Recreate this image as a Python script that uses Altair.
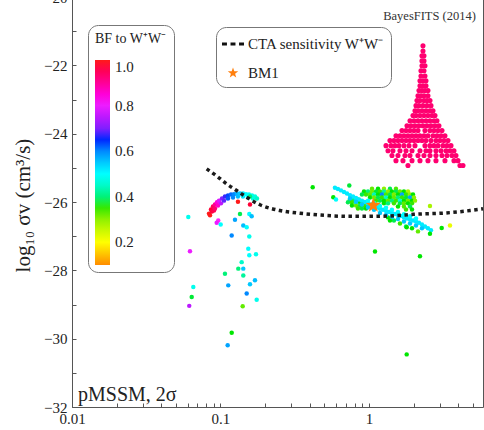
import altair as alt
import pandas as pd

SERIF = "Liberation Serif"

# ---------------- data ----------------
# pink spire at high mass, BF ~ 0.93: rows of (log10 sigma v, [m values])
pink_rows = [
    (-21.43, [2.310]),
    (-21.58, [2.310]),
    (-21.72, [2.274, 2.346]),
    (-21.87, [2.274, 2.346]),
    (-22.01, [2.274, 2.383]),
    (-22.16, [2.239, 2.346]),
    (-22.31, [2.239, 2.383]),
    (-22.45, [2.205, 2.310, 2.420]),
    (-22.60, [2.205, 2.310, 2.420]),
    (-22.74, [2.171, 2.274, 2.383, 2.496]),
    (-22.89, [2.138, 2.239, 2.346, 2.496]),
    (-23.03, [2.105, 2.205, 2.346, 2.458, 2.575]),
    (-23.18, [2.073, 2.171, 2.310, 2.458, 2.615]),
    (-23.33, [2.041, 2.138, 2.274, 2.420, 2.575, 2.698]),
    (-23.47, [1.979, 2.073, 2.205, 2.346, 2.496, 2.656, 2.783]),
    (-23.62, [1.889, 2.009, 2.138, 2.274, 2.420, 2.575, 2.740, 2.870]),
    (-23.77, [1.803, 1.918, 2.041, 2.171, 2.310, 2.458, 2.615, 2.783, 2.960]),
    (-23.91, [1.668, 1.776, 1.889, 2.009, 2.138, 2.383, 2.575, 2.740, 2.915, 3.102]),
    (-24.06, [1.520, 1.617, 1.720, 1.831, 1.949, 2.073, 2.205, 2.346, 2.496, 2.698, 2.870, 3.054, 3.249]),
    (-24.20, [1.385, 1.473, 1.568, 1.668, 1.776, 1.889, 2.009, 2.138, 2.274, 2.420, 2.615, 2.826, 3.007, 3.200, 3.404]),
    (-24.35, [1.302, 1.406, 1.497, 1.592, 1.720, 1.860, 2.041, 2.383, 2.575, 2.740, 2.915, 3.150, 3.352, 3.566]),
    (-24.50, [1.343, 1.450, 1.617, 1.776, 1.949, 2.205, 2.420, 2.575, 2.826, 3.054, 3.300, 3.512, 3.736]),
    (-24.64, [1.428, 1.568, 1.747, 1.889, 2.138, 2.346, 2.575, 2.826, 3.102, 3.352, 3.622, 3.853]),
    (-24.79, [1.520, 1.694, 1.949, 2.205, 2.496, 2.826, 3.249, 3.736, 3.975]),
    (-24.93, [1.831, 4.101, 4.296]),
]
pink_bf = 0.93

# arc of points near m ~ 0.1
arc_x = [0.0837, 0.0850, 0.0863, 0.0876, 0.0890, 0.0904, 0.0918, 0.0918, 0.0947, 0.0962,
         0.0977, 0.1008, 0.1024, 0.1056, 0.1072, 0.1123, 0.1123, 0.1177, 0.1214, 0.1233,
         0.1291, 0.1311, 0.1353, 0.1418, 0.1418, 0.1485, 0.1532, 0.1556, 0.1630, 0.1655,
         0.1707, 0.1761, 0.1311, 0.1580, 0.1580]
arc_y = [-26.34, -26.39, -26.22, -26.28, -26.13, -26.25, -26.07, -26.19, -26.01, -26.10,
         -25.96, -26.04, -25.90, -25.96, -25.84, -25.81, -25.90, -25.78, -25.87, -25.77,
         -25.75, -25.84, -25.75, -25.75, -25.84, -25.77, -25.87, -25.78, -25.81, -25.90,
         -25.84, -25.90, -25.99, -26.07, -25.84]
arc_bf = [1.0, 1.0, 0.98, 0.97, 0.95, 0.96, 0.90, 0.93, 0.85, 0.86,
          0.78, 0.75, 0.70, 0.68, 0.66, 0.64, 0.63, 0.62, 0.60, 0.60,
          0.57, 0.56, 0.55, 0.52, 0.52, 0.50, 0.50, 0.50, 0.48, 0.47,
          0.47, 0.45, 1.0, 0.98, 0.40]

# scattered points below the arc
left_x = [0.0607, 0.0966, 0.0943, 0.1003, 0.1252, 0.1353, 0.1563, 0.1622, 0.1424, 0.1501,
          0.1190, 0.1563, 0.0623, 0.1539, 0.1734, 0.1563, 0.1389, 0.1424, 0.1318, 0.1072,
          0.1424, 0.1128, 0.1707, 0.1580, 0.0656, 0.1501, 0.1753, 0.0640, 0.0616, 0.1411,
          0.1190, 0.1118]
left_y = [-26.44, -26.54, -26.61, -26.66, -26.52, -26.35, -26.35, -26.42, -26.69, -26.74,
          -26.98, -27.01, -27.44, -27.37, -27.53, -27.56, -27.76, -27.95, -27.95, -28.10,
          -28.15, -28.44, -28.29, -28.41, -28.49, -28.68, -28.86, -28.78, -29.04, -29.05,
          -29.83, -30.19]
left_bf = [0.48, 0.82, 0.80, 0.50, 0.58, 0.38, 0.50, 0.56, 0.56, 0.50,
           0.60, 0.48, 0.80, 0.50, 0.48, 0.50, 0.45, 0.55, 0.40, 0.40,
           0.42, 0.58, 0.56, 0.55, 0.48, 0.60, 0.48, 0.37, 0.75, 0.33,
           0.36, 0.58]

# green cloud around m ~ 1: rows of (y, [m], [BF])
green_rows = [
    (-25.93, [0.745, 0.793, 0.843], [0.36, 0.40, 0.35]),
    (-26.01, [0.722, 0.768, 0.818, 0.870, 0.926], [0.38, 0.35, 0.42, 0.36, 0.33]),
    (-26.10, [0.768, 0.818, 0.870, 0.926, 0.985], [0.36, 0.33, 0.38, 0.35, 0.40]),
    (-26.19, [0.843, 0.897, 0.955], [0.35, 0.38, 0.36]),
    (-25.61, [1.048, 1.150, 1.262, 1.385, 1.520], [0.33, 0.36, 0.30, 0.38, 0.34]),
    (-25.69, [0.926, 0.985, 1.048, 1.115, 1.186, 1.262, 1.343, 1.428, 1.520, 1.617, 1.720, 1.831],
     [0.36, 0.40, 0.32, 0.37, 0.35, 0.42, 0.30, 0.36, 0.38, 0.33, 0.36, 0.28]),
    (-25.78, [0.897, 0.955, 1.016, 1.081, 1.150, 1.223, 1.302, 1.385, 1.473, 1.568, 1.668, 1.776, 1.889, 1.979],
     [0.38, 0.35, 0.33, 0.44, 0.36, 0.60, 0.34, 0.38, 0.31, 0.36, 0.58, 0.35, 0.30, 0.36]),
    (-25.87, [1.016, 1.081, 1.150, 1.223, 1.302, 1.385, 1.473, 1.568, 1.668, 1.776, 1.889, 2.009],
     [0.36, 0.32, 0.38, 0.35, 0.45, 0.36, 0.33, 0.40, 0.35, 0.37, 0.58, 0.30]),
    (-25.96, [1.115, 1.186, 1.262, 1.343, 1.428, 1.520, 1.617, 1.720, 1.831, 1.949, 2.041],
     [0.35, 0.38, 0.36, 0.33, 0.40, 0.35, 0.46, 0.36, 0.32, 0.36, 0.30]),
    (-26.04, [1.262, 1.343, 1.473, 1.617, 1.720, 1.831, 1.949], [0.36, 0.40, 0.35, 0.38, 0.33, 0.36, 0.35]),
    (-26.13, [1.568, 1.720, 1.889], [0.36, 0.34, 0.38]),
    (-26.22, [1.776, 1.949], [0.35, 0.36]),
]
below_x = [1.343, 1.473, 1.617, 1.776, 1.949, 2.138]
below_y = [-26.45, -26.54, -26.63, -26.72, -26.77, -26.86]
below_bf = [0.36, 0.38, 0.35, 0.40, 0.36, 0.33]

# light-blue band through m ~ 1
band_main_x = [0.590, 0.618, 0.648, 0.679, 0.711, 0.745, 0.781, 0.818, 0.857, 0.897, 0.940,
               0.985, 1.032, 1.081, 1.132, 1.186, 1.243, 1.302, 1.364, 1.428, 1.497, 1.568,
               1.642, 1.720, 1.803, 1.889, 1.979, 2.073, 2.171, 2.274, 2.383, 2.496, 2.615]
band_main_y = [-25.58, -25.62, -25.66, -25.71, -25.75, -25.80, -25.84, -25.88, -25.93, -25.96, -26.00,
               -26.04, -26.07, -26.12, -26.16, -26.20, -26.23, -26.26, -26.29, -26.32, -26.35, -26.38,
               -26.41, -26.45, -26.48, -26.51, -26.54, -26.57, -26.61, -26.66, -26.72, -26.77, -26.83]
band_main_bf = 0.52
band_low_x = [0.745, 0.818, 0.897, 0.985, 1.081, 1.186, 1.302, 1.428, 1.568, 1.720, 1.889, 2.073, 2.274]
band_low_y = [-25.90, -25.99, -26.07, -26.16, -26.23, -26.32, -26.38, -26.44, -26.50, -26.57, -26.63, -26.69, -26.77]
band_low_bf = 0.55
band_up_x = [0.985, 1.081, 1.186, 1.302, 1.428, 1.568, 1.720, 1.889, 2.073]
band_up_y = [-25.96, -26.03, -26.12, -26.17, -26.23, -26.29, -26.36, -26.42, -26.48]
band_up_bf = 0.50

# isolated points on the right
rs_x = [0.4178, 0.7369, 0.5749, 0.5995, 1.385, 1.795, 2.575, 3.088, 3.512, 2.575, 1.098, 2.205, 1.795]
rs_y = [-25.57, -25.52, -25.86, -25.93, -26.54, -26.74, -26.93, -26.76, -26.69, -26.12, -27.45, -27.59, -30.46]
rs_bf = [0.36, 0.37, 0.36, 0.50, 0.36, 0.36, 0.36, 0.36, 0.22, 0.28, 0.36, 0.36, 0.36]

# CTA sensitivity curve
cta_x = [0.0807, 0.095, 0.110, 0.130, 0.150, 0.1845, 0.251, 0.343, 0.50, 0.708, 1.0, 1.5, 2.0, 3.3, 4.8, 5.86]
cta_y = [-25.03, -25.25, -25.47, -25.68, -25.86, -26.08, -26.25, -26.33, -26.39, -26.42, -26.42, -26.40, -26.36, -26.32, -26.25, -26.20]

# benchmark point
bm1_x = [1.069]
bm1_y = [-26.10]

legend_labels = ["CTA sensitivity W\u207aW\u207b", "BM1"]
x_ticks = [0.01, 0.02, 0.03, 0.04, 0.05, 0.06, 0.07, 0.08, 0.09,
           0.1, 0.2, 0.3, 0.4, 0.5, 0.6, 0.7, 0.8, 0.9, 1, 2, 3, 4, 5]
y_ticks = [-32, -31.5, -31, -30.5, -30, -29.5, -29, -28.5, -28, -27.5, -27, -26.5, -26,
           -25.5, -25, -24.5, -24, -23.5, -23, -22.5, -22, -21.5, -21, -20.5, -20]
bf_stops = [0.1, 0.2, 0.36, 0.5, 0.65, 0.82, 1.0]
bf_colors = ["#ff8c00", "#ffff00", "#00e600", "#00ffff", "#0028ff", "#ff22ff", "#ff1a1a"]

# ---------------- tables ----------------
pink_recs = []
for yv, xs in pink_rows:
    for xv in xs:
        pink_recs.append((xv, yv, pink_bf))
pink_df = pd.DataFrame(pink_recs, columns=["x", "y", "bf"])

recs = []
for xv, yv, b in zip(arc_x, arc_y, arc_bf):
    recs.append((xv, yv, b))
for xv, yv, b in zip(left_x, left_y, left_bf):
    recs.append((xv, yv, b))
for yv, xs, bs in green_rows:
    for xv, b in zip(xs, bs):
        recs.append((xv, yv, b))
for xv, yv, b in zip(below_x, below_y, below_bf):
    recs.append((xv, yv, b))
for xv, yv in zip(band_main_x, band_main_y):
    recs.append((xv, yv, band_main_bf))
for xv, yv in zip(band_low_x, band_low_y):
    recs.append((xv, yv, band_low_bf))
for xv, yv in zip(band_up_x, band_up_y):
    recs.append((xv, yv, band_up_bf))
for xv, yv, b in zip(rs_x, rs_y, rs_bf):
    recs.append((xv, yv, b))
pts = pd.DataFrame(recs, columns=["x", "y", "bf"])

cta = pd.DataFrame({"x": cta_x, "y": cta_y})
bm1 = pd.DataFrame({"x": bm1_x, "y": bm1_y, "label": ["BM1"]})

# ---------------- encodings ----------------
X = alt.X("x:Q",
          scale=alt.Scale(type="log", domain=[0.01, 5.86], nice=False),
          axis=alt.Axis(values=x_ticks, format="~g",
                        labelExpr="(datum.value == 0.01 || datum.value == 0.1 || datum.value == 1) ? datum.label : ''",
                        title=None, grid=False, domain=False, offset=-4, tickSize=4,
                        tickColor="#555", tickWidth=1, labelPadding=4,
                        labelFont=SERIF, labelFontSize=15, labelColor="#222",
                        labelOverlap=False, labelFlush=False))
Y = alt.Y("y:Q",
          scale=alt.Scale(domain=[-32, -20], nice=False, zero=False),
          axis=alt.Axis(values=y_ticks, format="d",
                        labelExpr="datum.value % 2 == 0 ? datum.label : ''",
                        title="log\u2081\u2080 \u03c3v (cm\u00b3/s)", titleFont=SERIF, titleFontSize=21,
                        titleFontWeight="normal", titleColor="#222", titleAngle=270,
                        titleX=-53, titleY=208, titleAlign="center", titleBaseline="middle",
                        grid=False, domain=False, offset=-4, tickSize=4, tickColor="#555",
                        tickWidth=1, labelPadding=5, labelFont=SERIF, labelFontSize=15,
                        labelColor="#222", labelOverlap=False, labelFlush=False))

color_scale = alt.Scale(domain=bf_stops, range=bf_colors)
color_legend = alt.Legend(
    title="BF to W\u207aW\u207b", orient="none", legendX=16, legendY=28, direction="vertical",
    gradientLength=205, gradientThickness=15, gradientStrokeWidth=0,
    values=[0.2, 0.4, 0.6, 0.8, 1.0], format=".1f", labelOverlap=False,
    labelFont=SERIF, labelFontSize=15, labelColor="#222", labelOffset=5,
    titleFont=SERIF, titleFontSize=14, titleFontWeight="normal", titleColor="#222",
    titlePadding=14, fillColor="white", strokeColor="#777", cornerRadius=10, padding=7)

dash_path = "M-1,-0.14H-0.55V0.14H-1Z M-0.225,-0.14H0.225V0.14H-0.225Z M0.55,-0.14H1V0.14H0.55Z"
star_path = ("M0,-0.5L0.118,-0.162L0.476,-0.155L0.19,0.062L0.294,0.405L0,0.2"
             "L-0.294,0.405L-0.19,0.062L-0.476,-0.155L-0.118,-0.162Z")


def sym_legend():
    return alt.Legend(title=None, orient="none", legendX=144, legendY=30, symbolSize=484,
                      symbolStrokeWidth=0, labelFont=SERIF, labelFontSize=15, labelColor="#222",
                      labelOffset=4, rowPadding=10, padding=6, fillColor="white",
                      strokeColor="#777", cornerRadius=10, labelLimit=300)


pink = alt.Chart(pink_df).mark_circle(size=26, opacity=1).encode(
    x=X, y=Y, color=alt.Color("bf:Q", scale=color_scale, legend=color_legend),
)
points = alt.Chart(pts).mark_circle(size=20, opacity=1).encode(
    x=X, y=Y, color=alt.Color("bf:Q", scale=color_scale, legend=color_legend),
)

line = alt.Chart(cta).mark_line(color="#1a1a1a", strokeWidth=3.5, strokeDash=[3.5, 3.5],
                                strokeCap="butt", interpolate="monotone").encode(x=X, y=Y)

star = alt.Chart(bm1).mark_point(filled=True, size=1000, opacity=1, strokeWidth=0).encode(
    x=X, y=Y,
    shape=alt.Shape("label:N", scale=alt.Scale(domain=legend_labels, range=[dash_path, star_path]),
                    legend=sym_legend()),
    fill=alt.Fill("label:N", scale=alt.Scale(domain=legend_labels, range=["#111111", "#ff7f0e"]),
                  legend=sym_legend()),
)

bayes = alt.Chart(pd.DataFrame({"x": [5.25], "y": [-20.55], "t": ["BayesFITS (2014)"]})).mark_text(
    align="right", baseline="middle", font=SERIF, fontSize=12.5, color="#333").encode(
    x=X, y=Y, text="t:N")

pmssm = alt.Chart(pd.DataFrame({"x": [0.01097], "y": [-31.82], "t": ["pMSSM, 2\u03c3"]})).mark_text(
    align="left", baseline="alphabetic", font=SERIF, fontSize=20, color="#222").encode(
    x=X, y=Y, text="t:N")

chart = alt.layer(pink, points, line, star, bayes, pmssm).properties(
    width=411, height=410,
    autosize=alt.AutoSizeParams(type="none"),
    padding={"left": 72, "top": -3, "right": 1, "bottom": 23},
    background="white",
).configure(font=SERIF).configure_axis(labelFont=SERIF, titleFont=SERIF).configure_legend(
    labelFont=SERIF, titleFont=SERIF).configure_text(font=SERIF).configure_view(
    stroke="#555", strokeWidth=1)

chart.save("out.html", embed_options={"renderer": "svg", "actions": False})
